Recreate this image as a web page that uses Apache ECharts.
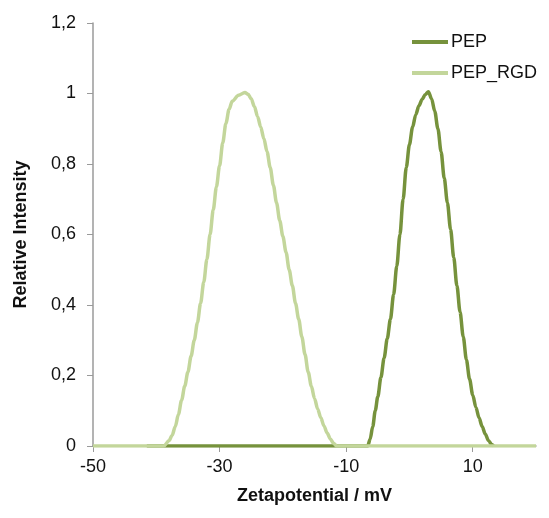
<!DOCTYPE html>
<html>
<head>
<meta charset="utf-8">
<script src="https://cdn.jsdelivr.net/npm/echarts@6/dist/echarts.min.js"></script>
<style>html,body{margin:0;padding:0;background:#fff}#c{width:549px;height:518px}</style>
</head>
<body>
<div id="c"></div>
<script>
var seriesNames = ['PEP', 'PEP_RGD'];
var xTickValues = [-50, -30, -10, 10];
var pepData = [
  [-41.5,0],[-30,0],[-20,0],[-10,0],[-6.6,0],[-6.2,0.02],[-5.8,0.055],[-5.4,0.1],[-5,0.14],
  [-4.5,0.195],[-4,0.25],[-3.5,0.305],[-3,0.36],[-2.5,0.43],[-2,0.51],[-1.5,0.6],[-1,0.7],
  [-0.5,0.79],[0,0.855],[0.5,0.905],[1,0.94],[1.5,0.965],[2,0.983],[2.5,0.997],[3,1.005],
  [3.5,0.985],[4,0.95],[4.5,0.9],[5,0.835],[5.5,0.76],[6,0.69],[6.5,0.615],[7,0.535],
  [7.5,0.455],[8,0.38],[8.5,0.31],[9,0.245],[9.5,0.19],[10,0.145],[10.5,0.11],[11,0.08],
  [11.5,0.055],[12,0.033],[12.5,0.015],[13,0.004],[13.3,0]
];
var pepRgdData = [
  [-50,0],[-45,0],[-40,0],[-38.8,0],[-38,0.015],[-37.5,0.03],[-37,0.055],[-36.5,0.09],
  [-36,0.13],[-35.5,0.17],[-35,0.21],[-34.5,0.255],[-34,0.3],[-33.5,0.35],[-33,0.405],
  [-32.5,0.465],[-32,0.53],[-31.5,0.6],[-31,0.67],[-30.5,0.735],[-30,0.795],[-29.5,0.86],
  [-29,0.915],[-28.5,0.955],[-28,0.978],[-27,0.995],[-26,1.003],[-25.5,0.998],[-25,0.985],
  [-24.5,0.963],[-24,0.935],[-23.5,0.905],[-23,0.872],[-22.5,0.835],[-22,0.79],[-21.5,0.74],
  [-21,0.69],[-20.5,0.64],[-20,0.595],[-19.5,0.55],[-19,0.5],[-18.5,0.455],[-18,0.405],
  [-17.5,0.36],[-17,0.31],[-16.5,0.26],[-16,0.21],[-15.5,0.17],[-15,0.135],[-14.5,0.105],
  [-14,0.08],[-13.5,0.057],[-13,0.037],[-12.5,0.02],[-12,0.008],[-11.5,0],[-10,0],[0,0],[10,0],[20,0]
];
var yTickFormat = function (v) { return (Math.round(v * 10) / 10).toString().replace('.', ','); };

var chart = echarts.init(document.getElementById('c'), null, {renderer: 'canvas'});
var font = "'Liberation Sans', Arial, sans-serif";
chart.setOption({
  animation: false,
  backgroundColor: '#ffffff',
  textStyle: {fontFamily: font},
  grid: {left: 93, right: 13, top: 23, bottom: 72, containLabel: false},
  legend: {
    orient: 'vertical',
    left: 407,
    top: 28,
    itemGap: 13,
    itemWidth: 36,
    itemHeight: 4,
    icon: 'rect',
    textStyle: {fontSize: 18, color: '#111', fontFamily: font, padding: [0, 0, 0, -2]},
    data: seriesNames
  },
  xAxis: {
    type: 'value',
    min: -50,
    max: 20,
    name: 'Zetapotential / mV',
    nameLocation: 'middle',
    nameGap: 41,
    nameTextStyle: {fontSize: 18, fontWeight: 'bold', color: '#111', fontFamily: font},
    axisLine: {show: true, onZero: false, lineStyle: {color: '#9a9a9a', width: 1.5}},
    axisTick: {show: true, length: 6, lineStyle: {color: '#9a9a9a'}, customValues: xTickValues},
    axisLabel: {fontSize: 18, color: '#111', margin: 12, customValues: xTickValues, fontFamily: font},
    splitLine: {show: false}
  },
  yAxis: {
    type: 'value',
    min: 0,
    max: 1.2,
    interval: 0.2,
    name: 'Relative Intensity',
    nameLocation: 'middle',
    nameGap: 63,
    nameTextStyle: {fontSize: 18, fontWeight: 'bold', color: '#111', fontFamily: font},
    axisLine: {show: true, onZero: false, lineStyle: {color: '#9a9a9a', width: 1.5}},
    axisTick: {show: true, length: 6, lineStyle: {color: '#9a9a9a'}},
    axisLabel: {fontSize: 18, color: '#111', margin: 17, formatter: yTickFormat, fontFamily: font},
    splitLine: {show: false}
  },
  series: [
    {
      name: seriesNames[0],
      type: 'line',
      data: pepData,
      smooth: 0.3,
      smoothMonotone: 'x',
      showSymbol: false,
      lineStyle: {color: '#76923c', width: 3.5},
      itemStyle: {color: '#76923c'},
      z: 2
    },
    {
      name: seriesNames[1],
      type: 'line',
      data: pepRgdData,
      smooth: 0.3,
      smoothMonotone: 'x',
      showSymbol: false,
      lineStyle: {color: '#c3d69b', width: 3.5},
      itemStyle: {color: '#c3d69b'},
      z: 3
    }
  ]
});
</script>
</body>
</html>
